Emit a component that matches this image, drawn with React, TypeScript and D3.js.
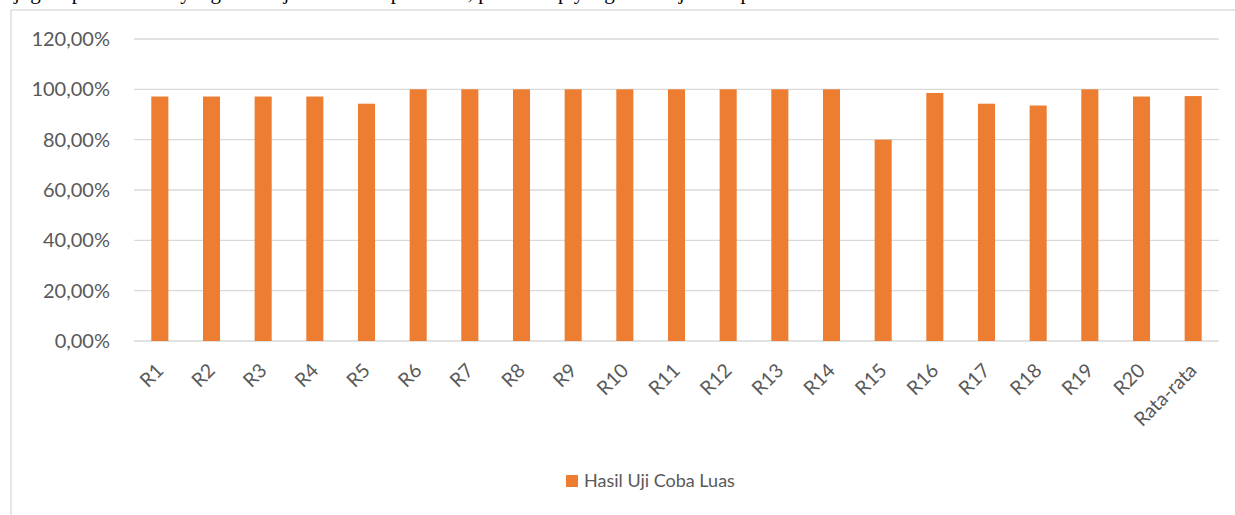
import { useEffect } from "react"
import * as d3 from "d3"

const categories = [
  "R1", "R2", "R3", "R4", "R5", "R6", "R7", "R8", "R9", "R10",
  "R11", "R12", "R13", "R14", "R15", "R16", "R17", "R18", "R19", "R20", "Rata-rata",
]
const values = [
  97.14, 97.14, 97.14, 97.14, 94.29, 100, 100, 100, 100, 100,
  100, 100, 100, 100, 80, 98.57, 94.29, 93.57, 100, 97.14, 97.32,
]
const yTicks = [0, 20, 40, 60, 80, 100, 120]
const seriesName = "Hasil Uji Coba Luas"
const captionLine = "juga diperoleh data yang menunjukkan hasil penilaian, pada tahap yang sama uji coba pada"

const W = 1235
const H = 515
const font = "Lato, 'Open Sans', sans-serif"
const textColor = "#595959"
const gridColor = "#d9d9d9"
const barColor = "#ED7D31"

export default function App() {
  useEffect(() => {
    document.body.style.margin = "0"
  }, [])

  const x = d3.scaleBand().domain(categories).range([134, 1219]).paddingInner(0.67).paddingOuter(0.335)
  const y = d3.scaleLinear().domain([0, 120]).range([341, 39])
  const fmt = (v: number) => v.toFixed(2).replace(".", ",") + "%"

  return (
    <svg width={W} height={H} style={{ display: "block", background: "#fff" }}>
      {/* cut-off line of document text above the chart */}
      <text x={14} y={-1} fontFamily="'Liberation Serif', 'Times New Roman', serif" fontSize={21} fill="#000">
        {captionLine}
      </text>
      {/* chart frame */}
      <rect x={11} y={10} width={1400} height={700} fill="none" stroke={gridColor} strokeWidth={1.3} />

      {yTicks.map((t) => (
        <g key={t}>
          <line x1={134} x2={1219} y1={y(t)} y2={y(t)} stroke={gridColor} strokeWidth={1.3} />
          <text x={110} y={y(t)} dy="0.35em" textAnchor="end" fontFamily={font} fontSize={20} fill={textColor}>
            {fmt(t)}
          </text>
        </g>
      ))}

      {categories.map((c, i) => (
        <rect key={c} x={x(c)} y={y(values[i])} width={x.bandwidth()} height={y(0) - y(values[i])} fill={barColor} />
      ))}

      {categories.map((c) => {
        const cx = (x(c) || 0) + x.bandwidth() / 2
        const cy = 367
        return (
          <text key={c} x={cx} y={cy} transform={`rotate(-45 ${cx} ${cy})`} textAnchor="end"
            dy="0.35em" fontFamily={font} fontSize={19.5} fill={textColor}>
            {c}
          </text>
        )
      })}

      <rect x={566} y={475} width={12} height={12} fill={barColor} />
      <text x={584} y={481} dy="0.35em" fontFamily={font} fontSize={18} fill={textColor}>
        {seriesName}
      </text>
    </svg>
  )
}
